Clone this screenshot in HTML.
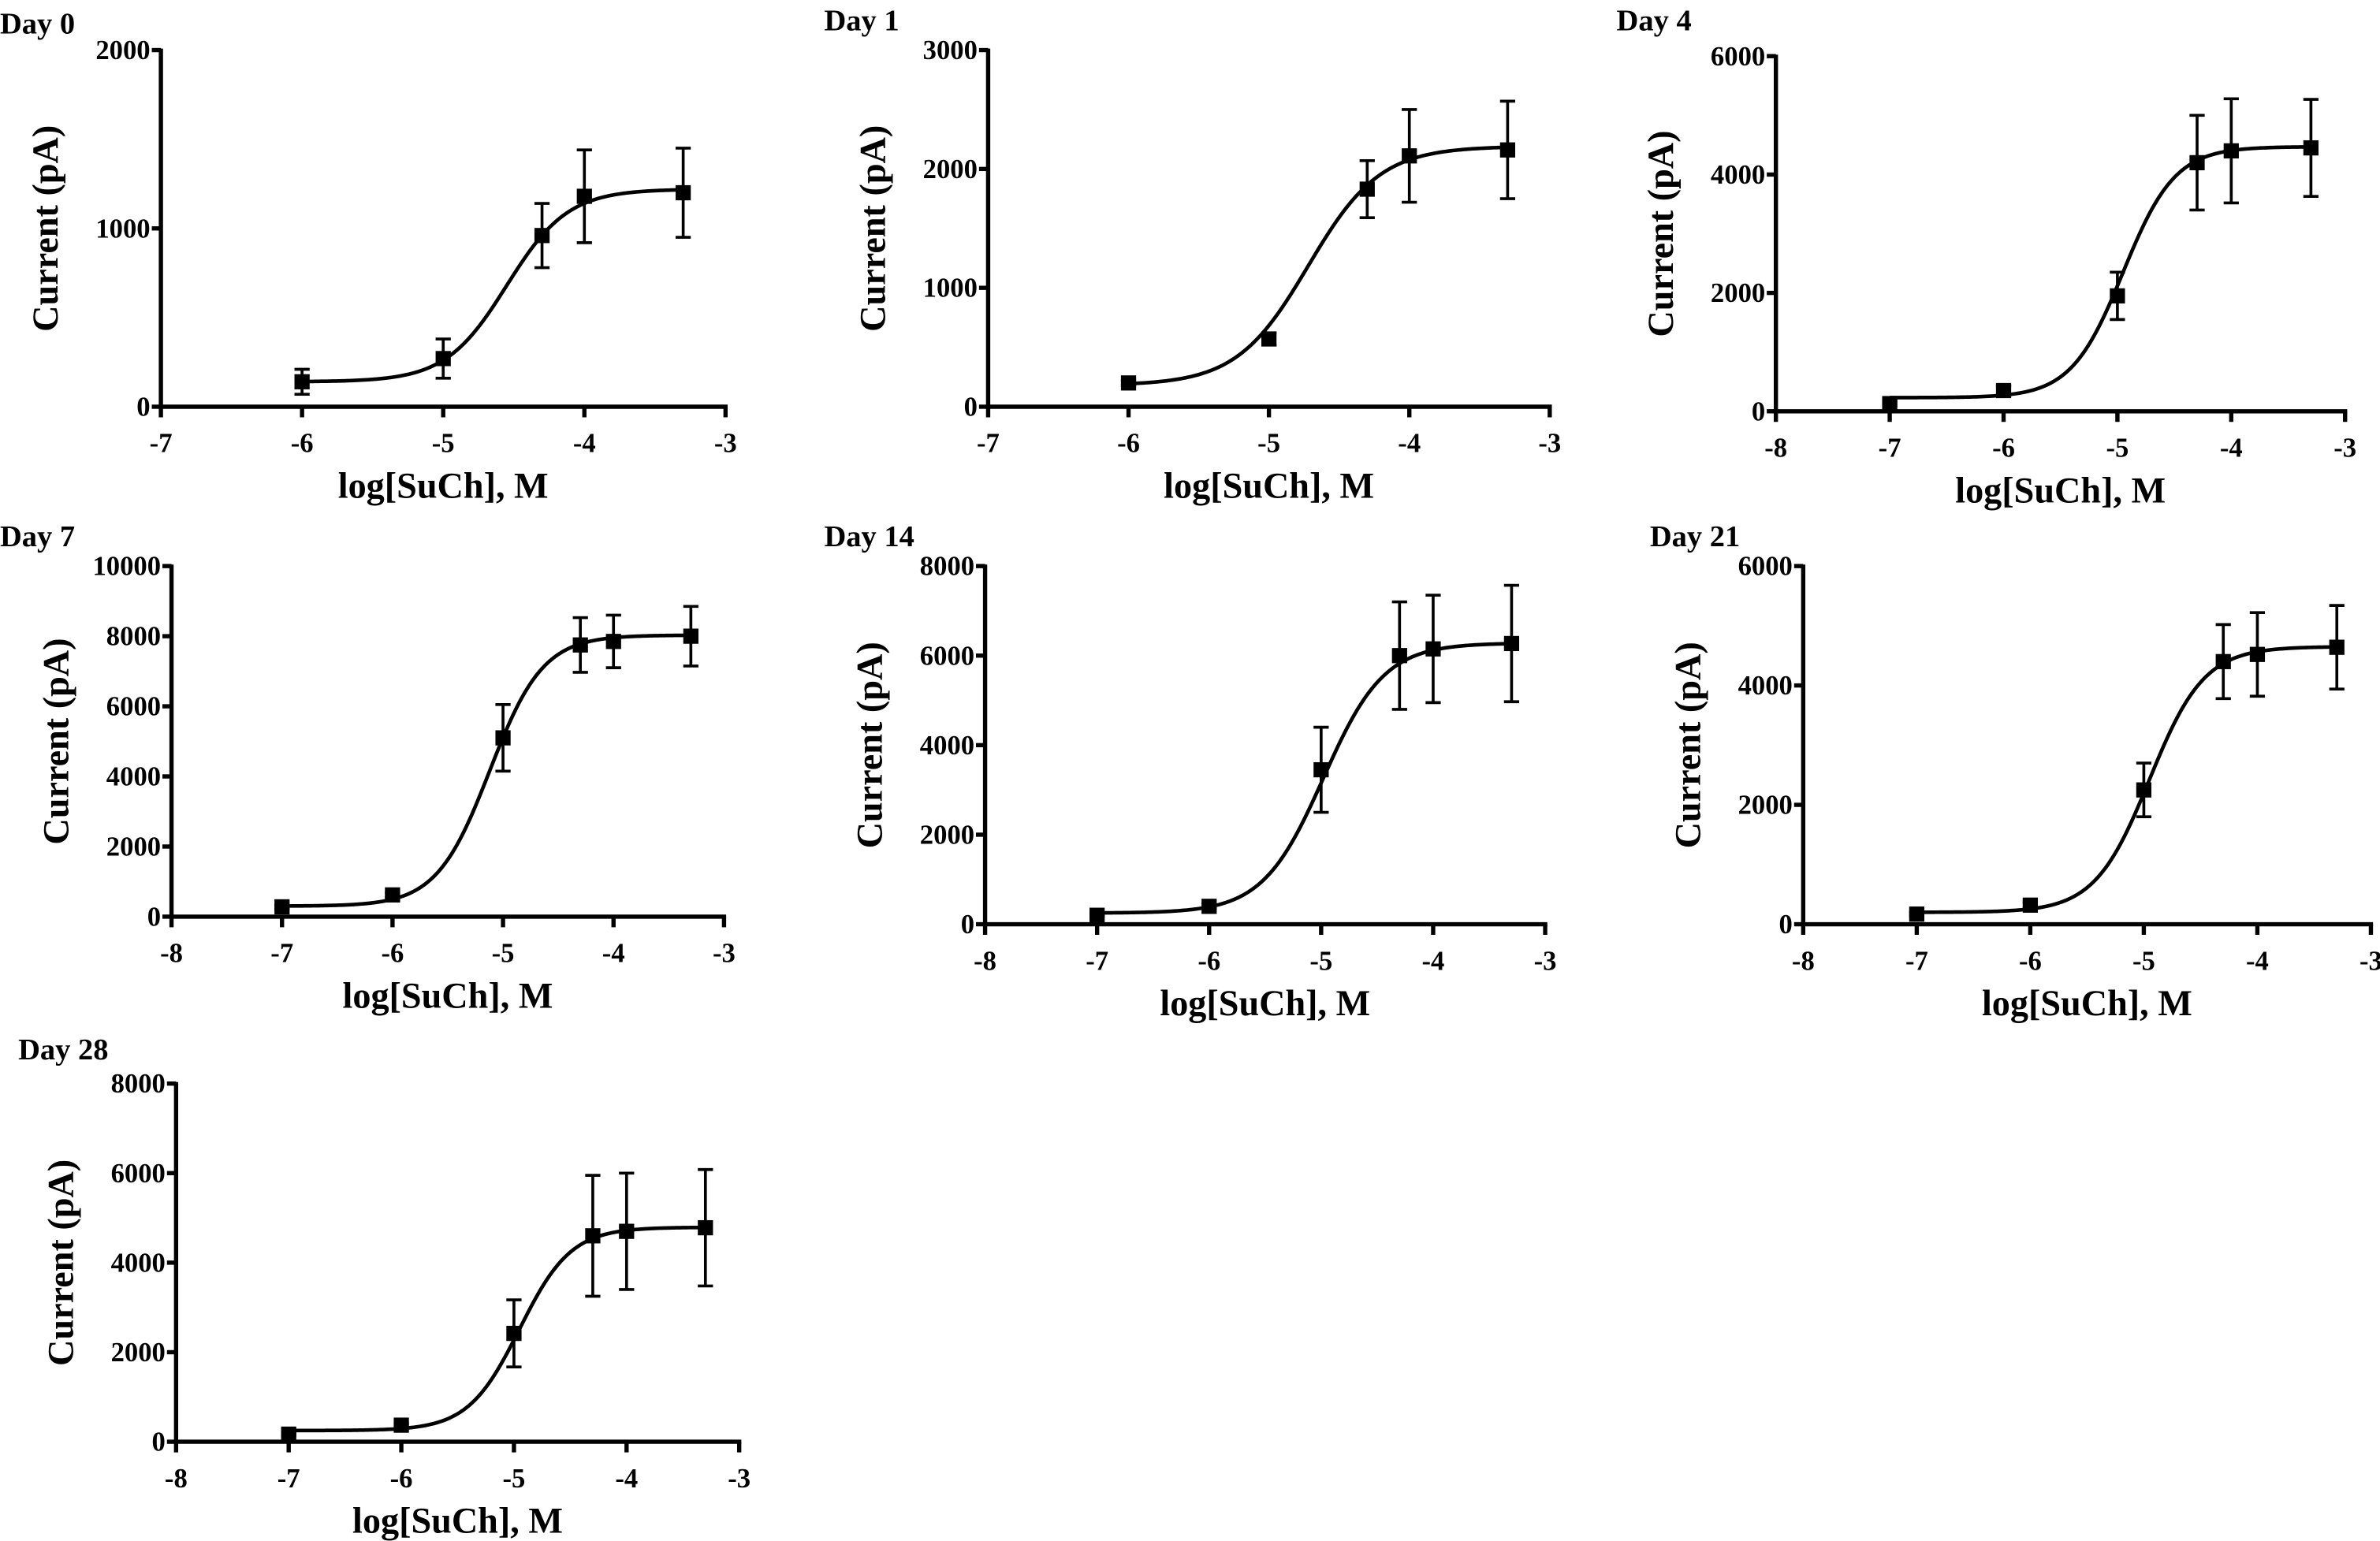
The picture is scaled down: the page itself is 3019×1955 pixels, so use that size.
<!DOCTYPE html>
<html><head><meta charset="utf-8"><style>
html,body{margin:0;padding:0;background:#fff;width:3019px;height:1955px;overflow:hidden}
svg{display:block}
text{font-family:"Liberation Serif","Times New Roman",serif;fill:#000}
</style></head><body>
<svg id="fig" width="3019" height="1955" viewBox="0 0 1568 1015.4" preserveAspectRatio="none" xmlns="http://www.w3.org/2000/svg"></svg>
<script>
// ---- data ----
const panelTitles = ["Day 0","Day 1","Day 4","Day 7","Day 14","Day 21","Day 28"];
const xs0 = [-6,-5,-4.3,-4,-3.3];
const xs1 = [-7,-6,-5,-4.3,-4,-3.3];
const meanDay0 = [140,270,960,1180,1200];
const errDay0 = [70,110,180,260,250];
const meanDay1 = [200,570,1830,2110,2160];
const errDay1 = [20,50,240,390,410];
const meanDay4 = [130,350,1950,4200,4400,4450];
const errDay4 = [30,80,400,800,880,820];
const meanDay7 = [280,620,5100,7750,7850,8000];
const errDay7 = [50,60,950,780,750,850];
const meanDay14 = [200,400,3450,6000,6150,6270];
const errDay14 = [30,50,950,1200,1200,1300];
const meanDay21 = [170,320,2250,4400,4520,4640];
const errDay21 = [30,50,450,620,700,700];
const meanDay28 = [170,370,2420,4600,4700,4780];
const errDay28 = [30,40,750,1350,1300,1300];
// fitted curve params: bottom, top, logEC50, hill
const fitBottom = [140,180,230,300,250,200,250];
const fitTop = [1220,2190,4470,8030,6280,4650,4790];
const fitEC50 = [-4.55,-4.72,-4.95,-5.12,-4.98,-4.95,-4.95];
const fitHill = [2.0,1.7,1.9,1.8,1.6,1.8,1.9];
const yMaxes = [2000,3000,6000,10000,8000,6000,8000];
const yTickSteps = [1000,1000,2000,2000,2000,2000,2000];
const xMins = [-7,-7,-8,-8,-8,-8,-8];

const layout = [
 {ax:106,top:33,zero:268,right:478,tx:0,ty:22},
 {ax:651,top:33,zero:268,right:1021,tx:543,ty:20},
 {ax:1170,top:37,zero:271,right:1545,tx:1065,ty:20},
 {ax:113,top:373,zero:604,right:477,tx:0,ty:360},
 {ax:649,top:373,zero:609,right:1018,tx:543,ty:360},
 {ax:1188,top:373,zero:609,right:1562,tx:1087,ty:360},
 {ax:116,top:714,zero:950,right:487,tx:12,ty:698}
];
const means=[meanDay0,meanDay1,meanDay4,meanDay7,meanDay14,meanDay21,meanDay28];
const errs=[errDay0,errDay1,errDay4,errDay7,errDay14,errDay21,errDay28];
const NS="http://www.w3.org/2000/svg";
const svg=document.getElementById('fig');
function mk(tag,attrs,parent){const e=document.createElementNS(NS,tag);for(const k in attrs)e.setAttribute(k,attrs[k]);(parent||svg).appendChild(e);return e;}

panelTitles.forEach((title,i)=>{
  const L=layout[i];
  const g=mk('g',{});
  
  
  const xMin=xMins[i], xMax=-3, yMax=yMaxes[i];
  const sx=v=>L.ax+(v-xMin)/(xMax-xMin)*(L.right-L.ax);
  const sy=v=>L.zero-v/yMax*(L.zero-L.top);
  const xv = means[i].length===5?xs0:xs1;
  const t=mk('text',{x:L.tx,y:L.ty,'font-size':20,'font-weight':'bold'},g);t.textContent=title;
  
  
  const ya=mk('line',{x1:L.ax,y1:L.top-1,x2:L.ax,y2:L.zero+1.5,stroke:'#000','stroke-width':2.8},g);
  
  
  const xa=mk('line',{x1:L.ax-1.4,y1:L.zero,x2:L.right+1.4,y2:L.zero,stroke:'#000','stroke-width':2.8},g);
  
  
  for(let v=0;v<=yMax;v+=yTickSteps[i]){
    mk('line',{x1:L.ax-6,y1:sy(v),x2:L.ax,y2:sy(v),stroke:'#000','stroke-width':2.8},g);
    const tl=mk('text',{x:L.ax-7,y:sy(v)+6,'font-size':18,'font-weight':'bold','text-anchor':'end'},g);tl.textContent=v;
    
    
  }
  for(let v=xMin;v<=xMax;v++){
    mk('line',{x1:sx(v),y1:L.zero,x2:sx(v),y2:L.zero+7,stroke:'#000','stroke-width':2.8},g);
    const tl=mk('text',{x:sx(v),y:L.zero+30,'font-size':18,'font-weight':'bold','text-anchor':'middle'},g);tl.textContent=v;
    
    
  }
  const xl=mk('text',{x:(L.ax+L.right)/2,y:L.zero+60,'font-size':24,'font-weight':'bold','text-anchor':'middle'},g);xl.textContent='log[SuCh], M';
  
  
  const cy=(L.top+L.zero)/2;
  const yl=mk('text',{x:L.ax-68,y:cy,'font-size':24,'font-weight':'bold','text-anchor':'middle',transform:`rotate(-90 ${L.ax-68} ${cy})`},g);yl.textContent='Current (pA)';
  
  
  const f=x=>fitBottom[i]+(fitTop[i]-fitBottom[i])/(1+Math.pow(10,(fitEC50[i]-x)*fitHill[i]));
  let d='';const x0=xv[0],x1=xv[xv.length-1];
  for(let k=0;k<=200;k++){const x=x0+(x1-x0)*k/200;d+=(k?'L':'M')+sx(x).toFixed(2)+' '+sy(f(x)).toFixed(2);}
  const c=mk('path',{d:d,fill:'none',stroke:'#000','stroke-width':2.4},g);
  
  
  xv.forEach((x,j)=>{
    const m=means[i][j],e=errs[i][j],px=sx(x);
    const eb=mk('path',{d:`M${px} ${sy(m+e)}V${sy(m-e)}M${px-5} ${sy(m+e)}H${px+5}M${px-5} ${sy(m-e)}H${px+5}`,stroke:'#000','stroke-width':1.9,fill:'none'},g);
    
    
    const r=mk('rect',{x:px-5,y:sy(m)-5,width:10,height:10,fill:'#000'},g);
    
    
  });
});
</script>
</body></html>
